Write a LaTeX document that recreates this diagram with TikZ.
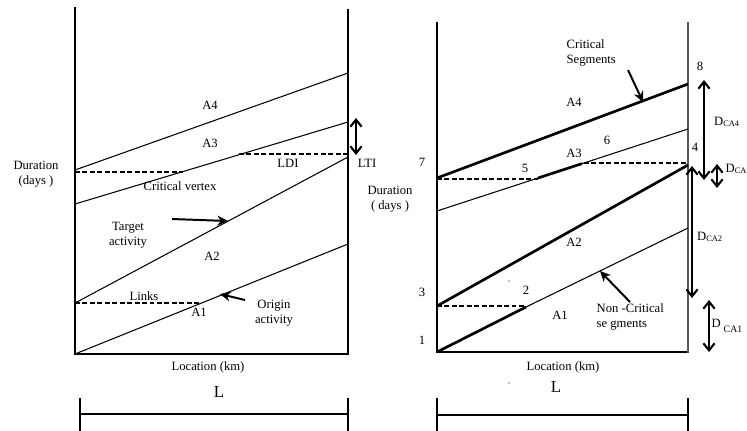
\documentclass[tikz,border=0pt]{standalone}
\usepackage{fontspec}
\setmainfont{Liberation Serif}
\usetikzlibrary{arrows.meta}

\tikzset{
  lbl/.style={font=\fontsize{9}{10.5}\selectfont, inner sep=1pt, align=center},
  plain/.style={line width=0.75pt},
  crit/.style={line width=1.9pt},
  link/.style={line width=1.4pt, dash pattern=on 3.5pt off 1.8pt},
  pointer/.style={line width=1.4pt, -{Stealth[length=7.5pt,width=7pt]}},
  span/.style={line width=1.5pt, {Straight Barb[length=5pt,width=8pt]}-{Straight Barb[length=5pt,width=8pt]}},
}

\begin{document}
\begin{tikzpicture}[x=0.025cm, y=-0.025cm]
        \useasboundingbox (0,0) rectangle (747,430);

        % left panel: frame
        \draw [plain] (75,7) -- (75,354) -- (348,354) -- (348,9);

        % left panel: activities
        \draw [plain] (75,170) -- (348,73);
        \draw [plain] (75,204) -- (348,122);
        \draw [plain] (75,303) -- (348,157);
        \draw [plain] (75,354) -- (348,244);

        % left panel: links
        \draw [link] (75,172) -- (183,172);
        \draw [link] (239,154) -- (348,154);
        \draw [link] (75,303) -- (200,303);

        % left panel: arrows
        \draw [span] (356,118) -- (356,155);
        \draw [pointer] (172,219) -- (228,221);
        \draw [pointer] (245,300) -- (220,294);

        % left panel: text
        \node [lbl] (dur1) at (36,174) {Duration\\(days )};
        \node [lbl] (a4a) at (210,105) {A4};
        \node [lbl] (a3a) at (210,143) {A3};
        \node [lbl] (cv) at (180,186) {Critical vertex};
        \node [lbl] (ldi) at (288,163) {LDI};
        \node [lbl] (lti) at (367,163) {LTI};
        \node [lbl] (tgt) at (128,235) {Target\\activity};
        \node [lbl] (a2a) at (212,256) {A2};
        \node [lbl] (lnk) at (144,296) {Links};
        \node [lbl] (a1a) at (199,312) {A1};
        \node [lbl] (org) at (274,313) {Origin\\activity};
        \node [lbl] (loc1) at (208,367) {Location (km)};
        \node [lbl, font=\fontsize{12}{13}\selectfont] (len1) at (219,392) {L};

        % left panel: length bar
        \draw [plain] (80,398) -- (80,432);
        \draw [plain] (348,398) -- (348,432);
        \draw [plain] (80,414) -- (348,414);

        % right panel: frame
        \draw [plain] (437,22) -- (437,352) -- (688,352);
        \draw [line width=1.2pt, black!65] (688,22) -- (688,353);

        % right panel: activities
        \draw [crit] (437,178) -- (688,84);
        \draw [plain] (437,211) -- (688,129);
        \draw [crit] (538,178) -- (582,163.6);
        \draw [crit] (437,306) -- (688,165);
        \draw [crit] (437,352) -- (526,307);
        \draw [plain] (526,307) -- (688,228);

        % right panel: links
        \draw [link] (437,179) -- (538,179);
        \draw [link] (584,163) -- (688,163);
        \draw [link] (437,306) -- (526,306);

        % right panel: arrows
        \draw [pointer] (628,70) -- (643,102);
        \draw [pointer] (630,302) -- (600,271);
        \draw [span] (704,80) -- (704,180);
        \draw [span] (717,164) -- (717,188);
        \draw [span] (692,166) -- (692,298);
        \draw [span] (709,300) -- (709,352);

        % right panel: text
        \node [lbl, align=left, anchor=west] (cs) at (565,53) {Critical\\Segments};
        \node [lbl] (p8) at (700,66) {8};
        \node [lbl] (a4b) at (574,102) {A4};
        \node [lbl] (dca4) at (727,122) {D\textsubscript{CA4}};
        \node [lbl] (p6) at (607,140) {6};
        \node [lbl] (p4) at (695,147) {4};
        \node [lbl] (a3b) at (574,153) {A3};
        \node [lbl] (p7) at (422,162) {7};
        \node [lbl] (p5) at (525,168) {5};
        \node [lbl, anchor=west] (dca) at (724,169) {D\textsubscript{CA}};
        \node [lbl] (dur2) at (390,199) {Duration\\( days )};
        \node [lbl] (dca2) at (710,237) {D\textsubscript{CA2}};
        \node [lbl] (a2b) at (574,242) {A2};
        \node [lbl] (p2) at (526,290) {2};
        \node [lbl] (p3) at (422,292) {3};
        \node [lbl, align=left, anchor=west] (ncs) at (595,317) {Non -Critical\\se gments};
        \node [lbl] (a1b) at (560,315) {A1};
        \node [lbl] (dca1) at (727,326) {D\hspace{2pt}\raisebox{-4pt}{\scriptsize CA1}};
        \node [lbl] (p1) at (422,340) {1};
        \node [lbl] (loc2) at (563,367) {Location (km)};
        \node [lbl, font=\fontsize{12}{13}\selectfont] (len2) at (556,387) {L};
        \fill (509,281) circle (0.5pt);
        \fill (509,383) circle (0.5pt);

        % right panel: length bar
        \draw [plain] (437,398) -- (437,432);
        \draw [plain] (688,398) -- (688,432);
        \draw [plain] (437,415) -- (688,415);
\end{tikzpicture}
\end{document}
